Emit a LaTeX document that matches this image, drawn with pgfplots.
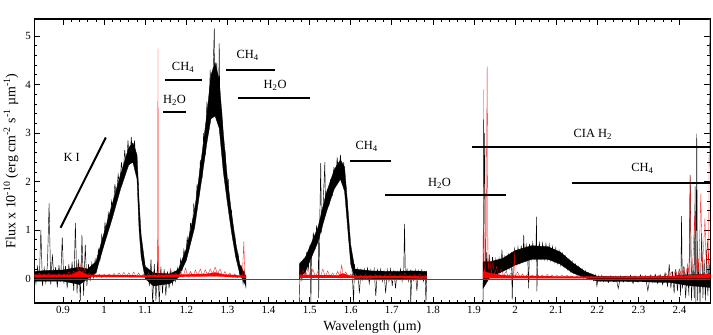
\documentclass[border=0pt]{standalone}
\usepackage{fontspec}
\setmainfont{Liberation Serif}
\usepackage{pgfplots}
\pgfplotsset{compat=1.18}
\newcommand{\lab}{\fontsize{12.5}{14}\selectfont}
\begin{document}
\begin{tikzpicture}
\begin{axis}[
    scale only axis,
    width=676bp, height=284bp,
    xmin=0.83, xmax=2.475,
    ymin=-0.5, ymax=5.35,
    xtick={0.9,1,1.1,1.2,1.3,1.4,1.5,1.6,1.7,1.8,1.9,2,2.1,2.2,2.3,2.4},
    xticklabels={0.9,1,1.1,1.2,1.3,1.4,1.5,1.6,1.7,1.8,1.9,2,2.1,2.2,2.3,2.4},
    ytick={0,1,2,3,4,5},
    minor x tick num=4,
    minor y tick num=4,
    tick align=inside,
    major tick length=6bp,
    minor tick length=3bp,
    every tick/.style={black, line width=0.8pt},
    axis line style={line width=1.2pt},
    tick label style={font=\fontsize{11}{13}\selectfont},
    label style={font=\fontsize{14}{16}\selectfont},
    xlabel={Wavelength (µm)},
    ylabel={Flux x 10\textsuperscript{-10} (erg cm\textsuperscript{-2} s\textsuperscript{-1} µm\textsuperscript{-1})},
    /pgf/number format/assume math mode=true,
]
% dense core of the observed spectrum (upper edge, then lower edge back)
\addplot[fill=black, draw=black, line width=0.3pt] coordinates {
(0.830,0.15) (0.860,0.17) (0.900,0.18) (0.940,0.24) (0.960,0.20) (0.980,0.35) (1.000,0.95) (1.020,1.55)
(1.040,2.15) (1.060,2.70) (1.070,2.80) (1.080,2.55) (1.085,1.60) (1.090,0.90) (1.100,0.25) (1.120,0.12)
(1.160,0.10) (1.180,0.18) (1.200,0.62) (1.220,1.40) (1.240,2.70) (1.250,3.40) (1.260,4.20) (1.270,4.45)
(1.280,4.10) (1.290,3.00) (1.300,2.05) (1.310,1.35) (1.320,0.75) (1.330,0.30) (1.345,0.05)
(1.345,-0.15) (1.330,0.10) (1.320,0.45) (1.310,0.95) (1.300,1.55) (1.290,2.20) (1.280,3.10) (1.270,3.35)
(1.260,3.30) (1.250,2.80) (1.240,2.20) (1.220,1.05) (1.200,0.38) (1.180,0.02) (1.160,-0.10) (1.120,-0.15)
(1.100,0.00) (1.090,0.45) (1.085,1.00) (1.080,2.05) (1.070,2.40) (1.060,2.35) (1.040,1.85) (1.020,1.25)
(1.000,0.70) (0.980,0.12) (0.960,0.00) (0.940,-0.12) (0.900,-0.05) (0.860,-0.05) (0.830,-0.05)
} -- cycle;
\addplot[fill=black, draw=black, line width=0.3pt] coordinates {
(1.475,0.30) (1.490,0.45) (1.500,0.65) (1.520,1.05) (1.540,1.75) (1.560,2.25) (1.575,2.45) (1.585,2.30)
(1.590,1.80) (1.600,0.70) (1.610,0.20) (1.650,0.16) (1.700,0.15) (1.750,0.16) (1.785,0.15)
(1.785,0.00) (1.750,0.00) (1.700,-0.01) (1.650,0.00) (1.610,0.00) (1.600,0.30) (1.590,1.30) (1.585,1.80)
(1.575,2.05) (1.560,1.85) (1.540,1.35) (1.520,0.75) (1.500,0.35) (1.490,0.15) (1.475,0.00)
} -- cycle;
\addplot[fill=black, draw=black, line width=0.3pt] coordinates {
(1.922,0.35) (1.940,0.35) (1.970,0.42) (2.000,0.58) (2.040,0.68) (2.080,0.66) (2.110,0.55) (2.140,0.33)
(2.170,0.15) (2.200,0.05) (2.300,0.04) (2.380,0.05) (2.420,0.08) (2.475,0.10)
(2.475,-0.18) (2.420,-0.14) (2.380,-0.08) (2.300,-0.06) (2.200,-0.05) (2.170,0.02) (2.140,0.12) (2.110,0.30)
(2.080,0.40) (2.040,0.40) (2.000,0.28) (1.970,0.15) (1.940,0.05) (1.922,-0.20)
} -- cycle;
% observed spectrum, J band
\addplot[black, line width=0.45pt] coordinates {
(0.830,0.20) (0.834,-0.10) (0.838,0.25) (0.842,-0.05) (0.846,1.00) (0.850,-0.15) (0.854,0.22) (0.858,-0.08)
(0.862,0.30) (0.866,1.55) (0.870,-0.12) (0.874,0.50) (0.878,-0.05) (0.882,0.24) (0.886,-0.18) (0.890,0.28)
(0.894,-0.06) (0.898,0.85) (0.902,-0.10) (0.906,0.26) (0.910,-0.20) (0.914,0.30) (0.918,-0.08) (0.922,0.35)
(0.926,-0.25) (0.930,1.15) (0.934,-0.30) (0.938,0.40) (0.942,-0.45) (0.946,0.90) (0.950,-0.35) (0.954,0.70)
(0.958,-0.15) (0.962,0.30) (0.966,-0.05) (0.970,0.32) (0.974,0.02) (0.978,0.40) (0.982,0.15) (0.986,0.60)
(0.990,0.40) (0.994,0.90) (0.998,0.70) (1.002,1.15) (1.006,0.90) (1.010,1.35) (1.014,1.10) (1.018,1.60)
(1.022,1.40) (1.026,1.95) (1.030,1.70) (1.034,2.15) (1.038,1.90) (1.042,2.40) (1.046,2.10) (1.050,2.65)
(1.054,2.30) (1.058,2.85) (1.062,2.35) (1.066,2.92) (1.070,2.40) (1.074,2.85) (1.078,2.30) (1.082,2.10)
(1.086,1.05) (1.090,0.80) (1.094,0.30) (1.098,0.35) (1.102,0.02) (1.106,0.20) (1.110,-0.15) (1.114,0.40)
(1.118,-0.50) (1.122,0.30) (1.126,-0.45) (1.130,0.35) (1.134,-0.50) (1.138,0.25) (1.142,-0.30) (1.146,0.20)
(1.150,-0.35) (1.154,0.15) (1.158,-0.20) (1.162,0.18) (1.166,-0.12) (1.170,0.15) (1.174,-0.05) (1.178,0.22)
(1.182,0.05) (1.186,0.40) (1.190,0.20) (1.194,0.60) (1.198,0.40) (1.202,0.85) (1.206,0.60) (1.210,1.15)
(1.214,0.90) (1.218,1.55) (1.222,1.25) (1.226,1.95) (1.230,1.65) (1.234,2.45) (1.238,2.05) (1.242,3.00)
(1.246,2.55) (1.250,3.65) (1.254,3.00) (1.258,4.30) (1.262,3.30) (1.266,4.55) (1.268,5.15) (1.270,3.35)
(1.274,4.45) (1.278,3.20) (1.280,4.85) (1.282,3.00) (1.286,3.50) (1.290,2.30) (1.294,2.65) (1.298,1.75)
(1.302,2.05) (1.306,1.30) (1.310,1.40) (1.314,0.80) (1.318,0.90) (1.322,0.40) (1.326,0.50) (1.330,0.10)
(1.334,0.25) (1.338,-0.10) (1.342,0.15) (1.345,-0.20)
};
% H band
\addplot[black, line width=0.45pt] coordinates {
(1.475,-0.50) (1.477,0.35) (1.481,-0.05) (1.485,0.40) (1.489,0.05) (1.493,0.55) (1.497,0.20) (1.501,0.70)
(1.503,-0.50) (1.505,0.45) (1.509,0.95) (1.513,0.60) (1.517,1.10) (1.521,0.80) (1.522,-0.40) (1.525,1.35)
(1.527,2.38) (1.529,0.95) (1.533,1.55) (1.537,2.40) (1.539,1.30) (1.543,1.85) (1.547,1.50) (1.551,2.05)
(1.555,1.70) (1.559,2.30) (1.563,1.95) (1.567,2.50) (1.571,2.10) (1.575,2.55) (1.579,2.05) (1.583,2.40)
(1.587,1.80) (1.591,1.60) (1.595,0.90) (1.599,0.55) (1.603,0.25) (1.607,-0.50) (1.609,0.30) (1.613,0.00)
(1.617,0.20) (1.621,-0.30) (1.625,0.18) (1.629,-0.02) (1.633,0.20) (1.637,0.00) (1.641,0.22) (1.645,-0.10)
(1.649,0.18) (1.653,0.00) (1.657,0.20) (1.661,-0.36) (1.665,0.18) (1.669,-0.02) (1.673,0.20) (1.677,-0.05)
(1.681,0.16) (1.685,-0.30) (1.689,0.18) (1.693,-0.05) (1.697,0.20) (1.701,-0.15) (1.705,0.18) (1.709,-0.20)
(1.713,0.15) (1.717,0.00) (1.721,0.20) (1.725,-0.05) (1.729,0.18) (1.731,1.13) (1.733,0.00) (1.737,0.20)
(1.741,-0.05) (1.745,0.18) (1.746,-0.50) (1.749,0.15) (1.753,-0.03) (1.757,0.18) (1.761,-0.25) (1.765,0.16)
(1.769,0.00) (1.773,0.18) (1.777,-0.05) (1.781,0.15) (1.783,-0.50) (1.785,0.05)
};
% K band
\addplot[black, line width=0.45pt] coordinates {
(1.922,-0.50) (1.923,0.50) (1.926,3.00) (1.928,-0.10) (1.931,0.55) (1.934,0.00) (1.937,0.50) (1.941,0.05)
(1.945,0.45) (1.949,0.10) (1.953,0.40) (1.957,0.05) (1.961,0.42) (1.965,0.12) (1.968,0.60) (1.971,0.15)
(1.975,0.45) (1.979,0.18) (1.983,0.50) (1.987,0.22) (1.991,0.55) (1.993,-0.43) (1.995,0.28) (1.999,0.62)
(2.003,0.30) (2.007,0.65) (2.011,0.33) (2.015,0.68) (2.019,0.35) (2.021,0.90) (2.023,0.38) (2.027,0.70)
(2.031,0.36) (2.033,-0.20) (2.035,0.72) (2.039,0.40) (2.043,0.74) (2.047,0.42) (2.051,0.72) (2.052,1.28)
(2.053,-0.26) (2.055,0.40) (2.059,0.74) (2.063,0.42) (2.067,0.73) (2.071,0.41) (2.075,0.72) (2.079,0.40)
(2.083,0.70) (2.087,0.38) (2.091,0.66) (2.095,0.35) (2.099,0.63) (2.103,0.32) (2.107,0.58) (2.111,0.28)
(2.115,0.52) (2.119,0.25) (2.123,0.46) (2.127,0.20) (2.131,0.40) (2.135,0.15) (2.139,0.35) (2.143,0.12)
(2.147,0.30) (2.151,0.08) (2.155,0.25) (2.159,0.05) (2.163,0.20) (2.167,0.02) (2.171,0.16) (2.175,0.00)
(2.179,0.12) (2.183,-0.02) (2.187,0.10) (2.191,-0.04) (2.195,0.08) (2.199,-0.15) (2.203,0.06) (2.207,-0.05)
(2.211,0.07) (2.215,-0.06) (2.221,0.05) (2.227,-0.08) (2.233,0.06) (2.239,-0.06) (2.245,0.05) (2.251,-0.20)
(2.257,0.06) (2.263,-0.07) (2.269,0.05) (2.275,-0.06) (2.281,0.07) (2.287,-0.10) (2.293,0.05) (2.299,-0.07)
(2.305,0.08) (2.311,-0.06) (2.317,0.06) (2.323,-0.25) (2.329,0.07) (2.335,-0.08) (2.341,0.09) (2.347,-0.10)
(2.353,0.08) (2.359,-0.12) (2.365,0.12) (2.371,-0.15) (2.375,0.30) (2.379,-0.20) (2.383,0.15) (2.387,-0.30)
(2.391,0.20) (2.395,-0.25) (2.399,0.18) (2.403,-0.35) (2.405,1.29) (2.407,-0.20) (2.411,0.25) (2.415,-0.40)
(2.419,0.22) (2.423,-0.35) (2.426,2.14) (2.429,-0.45) (2.433,0.30) (2.436,-0.40) (2.438,1.90) (2.440,-0.50)
(2.442,2.99) (2.444,-0.45) (2.447,0.35) (2.450,-0.50) (2.454,0.94) (2.457,-0.40) (2.460,0.40) (2.463,-0.45)
(2.466,0.60) (2.469,-0.35) (2.472,0.40) (2.475,-0.30)
};
% zero line and noise spectrum
\addplot[red, line width=0.4pt] coordinates {(0.83,0) (2.475,0)};
\addplot[fill=red, draw=red, line width=0.2pt] coordinates {
(0.830,0.08) (0.920,0.08) (0.940,0.16) (0.960,0.08) (1.100,0.07) (1.250,0.10) (1.270,0.13) (1.290,0.09)
(1.345,0.06) (1.345,0.02) (1.270,0.05) (1.100,0.03) (0.940,0.04) (0.830,0.03)
} -- cycle;
\addplot[fill=red, draw=red, line width=0.2pt] coordinates {
(1.475,0.08) (1.570,0.07) (1.580,0.11) (1.600,0.06) (1.785,0.05) (1.785,0.01) (1.475,0.02)
} -- cycle;
\addplot[fill=red, draw=red, line width=0.2pt] coordinates {
(1.922,0.15) (1.960,0.08) (2.000,0.06) (2.200,0.04) (2.380,0.05) (2.475,0.10) (2.475,0.01) (1.922,0.01)
} -- cycle;
\addplot[red, line width=0.3pt] coordinates {
(0.830,0.10) (0.836,0.02) (0.842,0.12) (0.848,0.04) (0.854,0.10) (0.860,0.03) (0.866,0.12) (0.872,0.04)
(0.878,0.09) (0.884,0.02) (0.890,0.11) (0.896,0.03) (0.902,0.10) (0.908,0.04) (0.914,0.14) (0.920,0.05)
(0.926,0.16) (0.932,0.06) (0.936,0.30) (0.940,0.08) (0.944,0.35) (0.948,0.06) (0.952,0.22) (0.958,0.05)
(0.964,0.12) (0.970,0.03) (0.976,0.10) (0.982,0.03) (0.988,0.09) (0.994,0.02) (1.000,0.09) (1.006,0.03)
(1.012,0.10) (1.018,0.04) (1.024,0.11) (1.030,0.04) (1.036,0.12) (1.042,0.05) (1.048,0.13) (1.054,0.05)
(1.060,0.12) (1.066,0.05) (1.072,0.14) (1.078,0.04) (1.084,0.12) (1.090,0.03) (1.096,0.10) (1.102,0.02)
(1.108,0.12) (1.114,0.03) (1.120,0.15) (1.126,0.02) (1.130,0.05) (1.131,4.74) (1.132,0.05) (1.138,0.14)
(1.144,0.03) (1.150,0.12) (1.156,0.04) (1.162,0.18) (1.168,0.03) (1.174,0.12) (1.180,0.02) (1.186,0.16)
(1.192,0.03) (1.198,0.22) (1.204,0.04) (1.210,0.15) (1.216,0.05) (1.222,0.18) (1.228,0.06) (1.234,0.20)
(1.240,0.06) (1.246,0.18) (1.252,0.08) (1.258,0.20) (1.264,0.10) (1.270,0.24) (1.276,0.10) (1.282,0.20)
(1.288,0.06) (1.294,0.15) (1.300,0.04) (1.306,0.12) (1.312,0.03) (1.318,0.10) (1.324,0.02) (1.330,0.09)
(1.336,0.02) (1.340,0.77) (1.342,0.02) (1.345,0.05)
};
\addplot[red, line width=0.3pt] coordinates {
(1.475,0.30) (1.478,0.02) (1.484,0.18) (1.490,0.03) (1.496,0.22) (1.502,0.02) (1.508,0.20) (1.514,0.04)
(1.520,0.15) (1.526,0.03) (1.532,0.20) (1.538,0.04) (1.544,0.16) (1.550,0.03) (1.556,0.12) (1.562,0.04)
(1.568,0.15) (1.574,0.05) (1.578,0.28) (1.582,0.05) (1.588,0.14) (1.594,0.03) (1.600,0.10) (1.606,0.02)
(1.612,0.09) (1.618,0.02) (1.624,0.08) (1.630,0.02) (1.636,0.09) (1.642,0.03) (1.648,0.08) (1.654,0.02)
(1.660,0.09) (1.666,0.03) (1.672,0.08) (1.678,0.02) (1.684,0.09) (1.690,0.03) (1.696,0.10) (1.702,0.02)
(1.708,0.08) (1.714,0.03) (1.720,0.09) (1.726,0.02) (1.732,0.12) (1.738,0.03) (1.744,0.08) (1.750,0.02)
(1.756,0.09) (1.762,0.03) (1.768,0.10) (1.774,0.02) (1.780,0.08) (1.785,0.05)
};
\addplot[red, line width=0.3pt] coordinates {
(1.922,0.00) (1.923,3.90) (1.925,0.10) (1.929,0.30) (1.932,4.37) (1.934,0.15) (1.938,0.45) (1.942,0.10)
(1.946,0.35) (1.950,0.08) (1.955,0.25) (1.960,0.05) (1.966,0.20) (1.972,0.06) (1.978,0.15) (1.984,0.04)
(1.990,0.12) (1.996,0.03) (1.998,0.55) (2.000,0.05) (2.006,0.14) (2.012,0.03) (2.018,0.10) (2.024,0.02)
(2.030,0.09) (2.036,0.02) (2.042,0.08) (2.048,0.02) (2.054,0.10) (2.060,0.02) (2.066,0.08) (2.072,0.03)
(2.078,0.09) (2.084,0.02) (2.090,0.08) (2.096,0.02) (2.102,0.07) (2.108,0.02) (2.114,0.08) (2.120,0.02)
(2.126,0.07) (2.132,0.02) (2.138,0.06) (2.144,0.01) (2.150,0.06) (2.156,0.01) (2.162,0.06) (2.168,0.02)
(2.174,0.05) (2.180,0.01) (2.186,0.05) (2.192,0.01) (2.198,0.05) (2.204,0.01) (2.210,0.05) (2.220,0.01)
(2.230,0.05) (2.240,0.01) (2.250,0.05) (2.260,0.01) (2.270,0.05) (2.280,0.01) (2.290,0.06) (2.300,0.01)
(2.310,0.06) (2.320,0.02) (2.330,0.07) (2.340,0.02) (2.350,0.08) (2.360,0.02) (2.368,0.10) (2.375,0.03)
(2.380,0.14) (2.385,0.03) (2.390,0.18) (2.395,0.04) (2.400,0.20) (2.405,0.05) (2.410,0.25) (2.415,0.06)
(2.420,0.30) (2.423,0.08) (2.426,2.10) (2.429,0.10) (2.433,0.45) (2.437,1.30) (2.440,0.12) (2.444,0.60)
(2.447,0.15) (2.452,1.75) (2.455,0.20) (2.459,0.70) (2.462,1.25) (2.465,0.25) (2.468,0.80) (2.471,0.30)
(2.474,6.00)
};
% band identifications
\addplot[black, line width=2pt] coordinates {(0.894,1.05) (1.004,2.91)};
\addplot[black, line width=2pt] coordinates {(1.149,4.09) (1.239,4.09)};
\addplot[black, line width=2pt] coordinates {(1.143,3.44) (1.200,3.44)};
\addplot[black, line width=2pt] coordinates {(1.297,4.29) (1.416,4.29)};
\addplot[black, line width=2pt] coordinates {(1.325,3.72) (1.502,3.72)};
\addplot[black, line width=2pt] coordinates {(1.599,2.43) (1.699,2.43)};
\addplot[black, line width=2pt] coordinates {(1.683,1.72) (1.979,1.72)};
\addplot[black, line width=2pt] coordinates {(1.894,2.71) (2.475,2.71)};
\addplot[black, line width=2pt] coordinates {(2.138,1.98) (2.475,1.98)};
\node[font=\lab] at (axis cs:0.921,2.49) {K I};
\node[font=\lab] at (axis cs:1.192,4.36) {CH\textsubscript{4}};
\node[font=\lab] at (axis cs:1.171,3.68) {H\textsubscript{2}O};
\node[font=\lab] at (axis cs:1.349,4.60) {CH\textsubscript{4}};
\node[font=\lab] at (axis cs:1.416,3.98) {H\textsubscript{2}O};
\node[font=\lab] at (axis cs:1.639,2.72) {CH\textsubscript{4}};
\node[font=\lab] at (axis cs:1.816,1.96) {H\textsubscript{2}O};
\node[font=\lab] at (axis cs:2.189,2.98) {CIA H\textsubscript{2}};
\node[font=\lab] at (axis cs:2.310,2.27) {CH\textsubscript{4}};
\end{axis}
\pgfresetboundingbox
\path[use as bounding box] ([shift={(-34.3bp,-32bp)}]current axis.south west) rectangle ([shift={(2.7bp,19bp)}]current axis.north east);
\end{tikzpicture}
\end{document}
